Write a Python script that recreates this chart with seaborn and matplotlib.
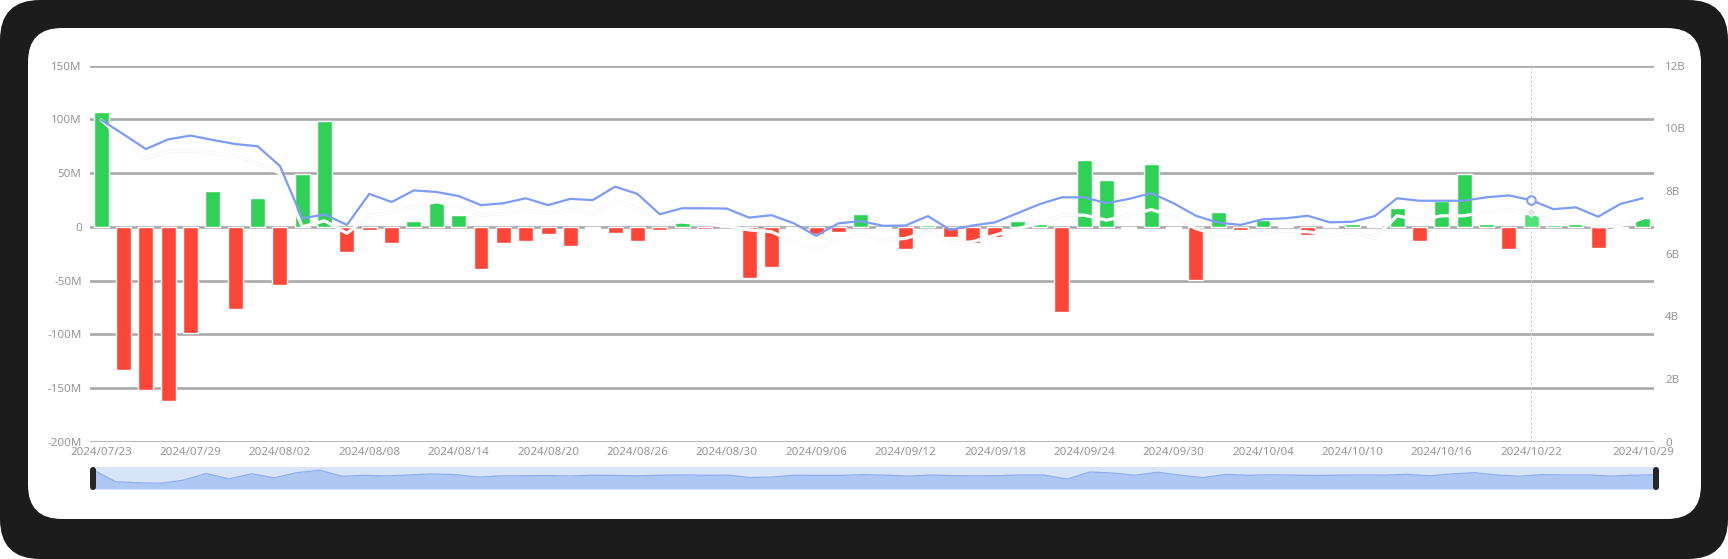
import numpy as np
import pandas as pd
import matplotlib
matplotlib.use("Agg")
import matplotlib.pyplot as plt
import matplotlib.patheffects as pe
from matplotlib.patches import FancyBboxPatch
from matplotlib.transforms import IdentityTransform
import seaborn as sns

# ---- data ----
dates = ["2024/07/23", "2024/07/24", "2024/07/25", "2024/07/26", "2024/07/29", "2024/07/30", "2024/07/31",
         "2024/08/01", "2024/08/02", "2024/08/05", "2024/08/06", "2024/08/07", "2024/08/08", "2024/08/09",
         "2024/08/12", "2024/08/13", "2024/08/14", "2024/08/15", "2024/08/16", "2024/08/19", "2024/08/20",
         "2024/08/21", "2024/08/22", "2024/08/23", "2024/08/26", "2024/08/27", "2024/08/28", "2024/08/29",
         "2024/08/30", "2024/09/03", "2024/09/04", "2024/09/05", "2024/09/06", "2024/09/09", "2024/09/10",
         "2024/09/11", "2024/09/12", "2024/09/13", "2024/09/16", "2024/09/17", "2024/09/18", "2024/09/19",
         "2024/09/20", "2024/09/23", "2024/09/24", "2024/09/25", "2024/09/26", "2024/09/27", "2024/09/30",
         "2024/10/01", "2024/10/02", "2024/10/03", "2024/10/04", "2024/10/07", "2024/10/08", "2024/10/09",
         "2024/10/10", "2024/10/11", "2024/10/14", "2024/10/15", "2024/10/16", "2024/10/17", "2024/10/18",
         "2024/10/21", "2024/10/22", "2024/10/23", "2024/10/24", "2024/10/25", "2024/10/28", "2024/10/29"]

# net flow, millions
net_flow_m = [106.5, -132.9, -152.2, -162.4, -98.4, 33.2, -76.4, 26.7, -54.0, 49.1,
              98.8, -23.3, -3.1, -15.5, 5.0, 24.2, 10.9, -39.1, -14.9, -13.4,
              -6.2, -18.0, -1.5, -5.6, -13.4, -3.1, 5.6, -2.2, 0.3, -47.5,
              -37.3, -1.0, -6.2, -4.7, 11.5, -1.0, -20.2, 1.9, -9.3, -14.9,
              -9.9, 5.3, 2.5, -79.2, 62.1, 43.2, -1.0, 58.4, -1.0, -49.1,
              14.0, -3.1, 6.8, 0.4, -7.5, 0.4, 2.5, 0.5, 17.1, -13.0,
              24.2, 48.8, 2.2, -20.8, 11.8, 1.9, 2.5, -19.3, -1.5, 7.8]

# right axis lines, billions
value_b = [10.27, 9.81, 9.34, 9.65, 9.77, 9.63, 9.50, 9.43, 8.80, 7.13,
           7.25, 6.92, 7.91, 7.65, 8.02, 7.97, 7.84, 7.55, 7.61, 7.77,
           7.55, 7.75, 7.71, 8.14, 7.91, 7.26, 7.45, 7.45, 7.44, 7.15,
           7.23, 6.97, 6.57, 6.97, 7.04, 6.89, 6.90, 7.20, 6.76, 6.90,
           7.00, 7.29, 7.58, 7.80, 7.80, 7.61, 7.75, 7.93, 7.61, 7.21,
           6.99, 6.92, 7.10, 7.13, 7.21, 7.00, 7.02, 7.20, 7.77, 7.69,
           7.69, 7.69, 7.80, 7.86, 7.71, 7.42, 7.48, 7.18, 7.59, 7.77]

avg_b = [10.27, 9.63, 9.04, 9.26, 9.28, 9.22, 9.12, 8.88, 8.57, 6.86,
         7.05, 6.65, 7.23, 7.31, 7.50, 7.66, 7.50, 7.23, 7.28, 7.39,
         7.31, 7.41, 7.28, 7.69, 7.44, 6.97, 7.01, 6.95, 6.88, 6.76,
         6.70, 6.38, 6.12, 6.49, 6.62, 6.42, 6.49, 6.70, 6.33, 6.38,
         6.59, 6.80, 6.97, 7.23, 7.23, 7.07, 7.23, 7.41, 7.18, 6.80,
         6.59, 6.49, 6.67, 6.72, 6.70, 6.59, 6.70, 6.49, 7.21, 7.07,
         7.21, 7.21, 7.34, 7.41, 7.32, 7.02, 6.99, 6.86, 6.89, 7.13]

left_ticks = [-200e6, -150e6, -100e6, -50e6, 0, 50e6, 100e6, 150e6]
left_labels = ["-200M", "-150M", "-100M", "-50M", "0", "50M", "100M", "150M"]
right_ticks = [0, 2e9, 4e9, 6e9, 8e9, 10e9, 12e9]
right_labels = ["0", "2B", "4B", "6B", "8B", "10B", "12B"]
x_tick_idx = [0, 4, 8, 12, 16, 20, 24, 28, 32, 36, 40, 44, 48, 52, 56, 60, 64, 69]
active_idx = 64

GREEN, GREEN_HI, RED = "#2fd157", "#4fe47a", "#ff4538"
BLUE = "#7c9cf7"
LABEL = "#979797"

df = pd.DataFrame({"idx": range(len(dates)),
                   "flow": np.array(net_flow_m) * 1e6,
                   "value": np.array(value_b) * 1e9,
                   "avg": np.array(avg_b) * 1e9})
df["dir"] = np.where(df["flow"] >= 0, "in", "out")

sns.set_theme(style="white")
plt.rcParams["font.family"] = ["Noto Sans", "DejaVu Sans"]

W, H = 1728, 559
fig = plt.figure(figsize=(W / 100, H / 100), dpi=100, facecolor="white")

# dark frame + white card
px = IdentityTransform()
fig.add_artist(FancyBboxPatch((0, 0), W, H, boxstyle="round,pad=0,rounding_size=40",
                              fc="#1c1c1c", ec="none", transform=px, zorder=-5))
fig.add_artist(FancyBboxPatch((28, 40), 1673, 491, boxstyle="round,pad=0,rounding_size=34",
                              fc="white", ec="none", transform=px, zorder=-4))

# ---- main chart ----
ax = fig.add_axes([90 / W, (H - 441.7) / H, 1564 / W, 376 / H])
ax.patch.set_alpha(0)
sns.barplot(data=df, x="idx", y="flow", hue="dir", palette={"in": GREEN, "out": RED},
            dodge=False, width=0.67, saturation=1, legend=False, ax=ax, zorder=2)
for p in ax.patches:
    if abs(p.get_x() + p.get_width() / 2 - active_idx) < 0.1:
        p.set_facecolor(GREEN_HI)

ax.set_ylim(-200e6, 150e6)
ax.set_yticks(left_ticks)
ax.set_yticklabels(left_labels)
ax.yaxis.grid(True, color="#a9a9a9", lw=1.9)
ax.set_axisbelow(True)
ax.set_xticks(x_tick_idx)
ax.set_xticklabels([dates[i] for i in x_tick_idx])
ax.tick_params(axis="both", length=0, colors=LABEL, labelsize=8.3)
ax.tick_params(axis="y", pad=6)
ax.tick_params(axis="x", pad=4)
ax.set_xlabel("")
ax.set_ylabel("")
for s in ax.spines.values():
    s.set_visible(False)
ax.axvline(active_idx, color="#c6c9d6", lw=0.8, ls=(0, (2, 2)), zorder=1)

ax2 = ax.twinx()
sns.lineplot(data=df, x="idx", y="avg", ax=ax2, color="white", lw=1.4, zorder=3,
             path_effects=[pe.Stroke(linewidth=2.4, foreground="#f4f4f4"), pe.Normal()])
sns.lineplot(data=df, x="idx", y="value", ax=ax2, color=BLUE, lw=1.6, zorder=4)
pt = df.iloc[[active_idx]]
sns.scatterplot(data=pt, x="idx", y="value", ax=ax2, s=38, color="white",
                edgecolor=BLUE, linewidth=1.4, zorder=5)
sns.scatterplot(data=pt, x="idx", y="avg", ax=ax2, s=22, marker="D", color="#e4e4e4",
                edgecolor="white", linewidth=0.8, zorder=5)
ax2.set_ylim(0, 12e9)
ax2.set_yticks(right_ticks)
ax2.set_yticklabels(right_labels)
ax2.tick_params(axis="y", length=0, colors=LABEL, labelsize=8.3, pad=8)
ax2.set_ylabel("")
ax2.grid(False)
for s in ax2.spines.values():
    s.set_visible(False)
ax.set_xlim(-0.5, len(dates) - 0.5)

# ---- data zoom slider ----
sx = fig.add_axes([93 / W, (H - 489) / H, (1656 - 93) / W, 22 / H])
sx.set_facecolor("#d8e4f9")
lo = -277e6
sx.fill_between(df["idx"], df["flow"], lo, color="#afc7f4", lw=0)
sns.lineplot(data=df, x="idx", y="flow", ax=sx, color="#8eaeef", lw=0.9)
sx.set_xlim(0, len(dates) - 1)
sx.set_ylim(lo, 163e6)
sx.set_xticks([])
sx.set_yticks([])
sx.set_xlabel("")
sx.set_ylabel("")
for s in sx.spines.values():
    s.set_visible(False)
for hx in (93, 1656):
    fig.add_artist(FancyBboxPatch((hx - 3, H - 490), 6, 23, boxstyle="round,pad=0,rounding_size=3",
                                  fc="#262626", ec="none", transform=px, zorder=5))

fig.savefig("out.png", dpi=100, facecolor="white")
